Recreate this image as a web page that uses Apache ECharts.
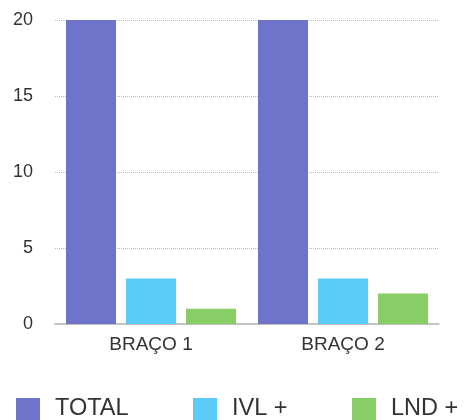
<!DOCTYPE html>
<html>
<head>
<meta charset="utf-8">
<script src="https://cdn.jsdelivr.net/npm/echarts@6/dist/echarts.min.js"></script>
<style>
  html, body { margin: 0; padding: 0; background: #fff; }
  #chart { width: 466px; height: 420px; }
</style>
</head>
<body>
<div id="chart"></div>
<script>
const categories = ['BRAÇO 1', 'BRAÇO 2'];
const seriesNames = ['TOTAL', 'IVL +', 'LND +'];
const totalValues = [20, 20];
const ivlValues = [3, 3];
const lndValues = [1, 2];
const yTicks = [0, 5, 10, 15, 20];

const colors = ['#6E74CA', '#5BCBF9', '#88CE66'];
const font = 'Liberation Sans, Arial, Helvetica, sans-serif';

const chart = echarts.init(document.getElementById('chart'));

function legendFor(name, left) {
  return {
    data: [name],
    left: left,
    top: 397,
    padding: 0,
    itemWidth: 24,
    itemHeight: 22,
    icon: 'rect',
    selectedMode: false,
    textStyle: { fontFamily: font, fontSize: 23.5, color: '#333', padding: [0, 0, 0, 10] }
  };
}

chart.setOption({
  animation: false,
  color: colors,
  legend: [
    legendFor(seriesNames[0], 16),
    legendFor(seriesNames[1], 193),
    legendFor(seriesNames[2], 352)
  ],
  grid: { left: 55, right: 27, top: 20, bottom: 96, containLabel: false },
  xAxis: {
    type: 'category',
    data: categories,
    axisTick: { show: false },
    axisLine: { lineStyle: { color: '#b5b5b5', width: 1.5 } },
    axisLabel: { fontFamily: font, fontSize: 19, color: '#333', margin: 11 }
  },
  yAxis: {
    type: 'value',
    min: yTicks[0],
    max: yTicks[yTicks.length - 1],
    interval: 5,
    axisLine: { show: false },
    axisTick: { show: false },
    axisLabel: { fontFamily: font, fontSize: 18, color: '#333', margin: 22 },
    splitLine: { lineStyle: { color: '#b8b8b8', type: 'dotted', width: 1 } }
  },
  series: [
    { name: seriesNames[0], type: 'bar', data: totalValues, barWidth: 50, barGap: '20%' },
    { name: seriesNames[1], type: 'bar', data: ivlValues, barWidth: 50, barGap: '20%' },
    { name: seriesNames[2], type: 'bar', data: lndValues, barWidth: 50, barGap: '20%' }
  ]
});
</script>
</body>
</html>
